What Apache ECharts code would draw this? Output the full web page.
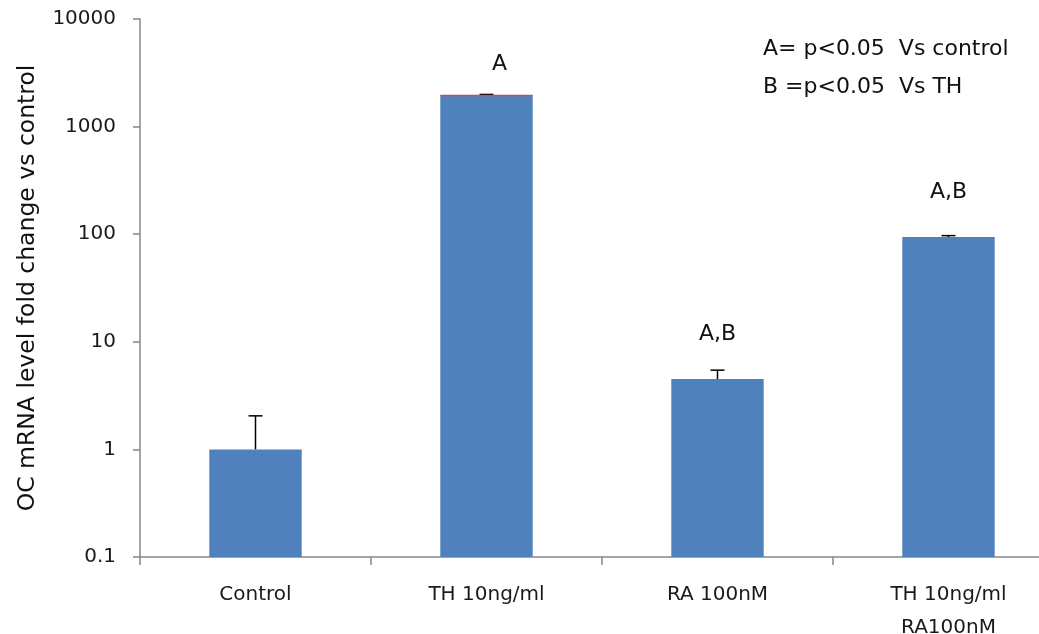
<!DOCTYPE html>
<html><head><meta charset="utf-8">
<script src="https://cdn.jsdelivr.net/npm/echarts@6/dist/echarts.min.js"></script>
<style>html,body{margin:0;padding:0;background:#fff;overflow:hidden}#c{width:1039px;height:634px}</style>
</head><body><div id="c"></div>
<script>
const categories = ['Control', 'TH 10ng/ml', 'RA 100nM', 'TH 10ng/ml\nRA100nM'];
const means = [1, 1950, 4.5, 94];
const errorTops = [2.05, 1990, 5.45, 97];
const sigLabels = ['', 'A', 'A,B', 'A,B'];
const yTicks = [0.1, 1, 10, 100, 1000, 10000];
const notes = ['A= p<0.05  Vs control', 'B =p<0.05  Vs TH'];

const FONT = '"DejaVu Sans", sans-serif';
const labelOffsets = [0, 31, 45, 45];
const labelDx = [0, 13, 0, 0];
const AXIS_MIN = 0.1;

const chart = echarts.init(document.getElementById('c'), null, {renderer: 'canvas'});
chart.setOption({
  animation: false,
  backgroundColor: '#fff',
  grid: {left: 140, top: 19, width: 924, height: 538, containLabel: false, outerBoundsMode: 'none'},
  xAxis: {
    type: 'category', data: categories,
    axisLine: {lineStyle: {color: '#868686', width: 1.5}},
    axisTick: {show: true, alignWithLabel: false, length: 8, lineStyle: {color: '#868686', width: 1.5}},
    axisLabel: {color: '#1a1a1a', fontFamily: FONT, fontSize: 20, margin: 21, lineHeight: 33}
  },
  yAxis: {
    type: 'log', logBase: 10, min: AXIS_MIN, max: 10000,
    name: 'OC mRNA level fold change vs control',
    nameLocation: 'middle', nameGap: 100, nameRotate: 90,
    nameTextStyle: {color: '#111', fontFamily: FONT, fontSize: 23.5},
    axisLine: {show: true, lineStyle: {color: '#868686', width: 1.5}},
    axisTick: {show: true, length: 7, lineStyle: {color: '#868686', width: 1.5}},
    splitLine: {show: false},
    axisLabel: {color: '#1a1a1a', fontFamily: FONT, fontSize: 20, margin: 24,
      formatter: v => { const t = yTicks.find(x => Math.abs(Math.log10(x) - Math.log10(v)) < 1e-6); return t === undefined ? '' : String(t); }}
  },
  series: [
    {
      type: 'custom', z: 5,
      data: categories.map((c, i) => [i, means[i], errorTops[i]]),
      renderItem: function (params, api) {
        const i = api.value(0);
        const top = api.coord([i, api.value(1)]);
        const base = api.coord([i, AXIS_MIN]);
        const err = api.coord([i, api.value(2)]);
        const bw = api.size([1, 0])[0] * 0.4;
        const children = [
          {type: 'rect', shape: {x: top[0] - bw / 2, y: top[1], width: bw, height: base[1] - top[1]}, style: {fill: '#4F81BD'}},
          {type: 'line', shape: {x1: top[0], y1: top[1], x2: err[0], y2: err[1]}, style: {stroke: '#000', lineWidth: 1.5}},
          {type: 'line', shape: {x1: err[0] - 7, y1: err[1], x2: err[0] + 7, y2: err[1]}, style: {stroke: '#000', lineWidth: 1.5}}
        ];
        if (i === 1) {
          children.push({type: 'line', shape: {x1: top[0] - bw / 2, y1: top[1], x2: top[0] + bw / 2, y2: top[1]}, style: {stroke: '#C0504D', lineWidth: 1.5}});
        }
        if (sigLabels[i]) {
          children.push({type: 'text', style: {text: sigLabels[i], x: top[0] + labelDx[i], y: top[1] - labelOffsets[i], align: 'center', verticalAlign: 'middle', font: '22px ' + FONT, fill: '#111'}});
        }
        return {type: 'group', children: children};
      }
    }
  ],
  graphic: notes.map((t, k) => ({
    type: 'text', left: 763, top: 38 + k * 38,
    style: {text: t, font: '22px ' + FONT, fill: '#111'}
  }))
});
</script></body></html>
